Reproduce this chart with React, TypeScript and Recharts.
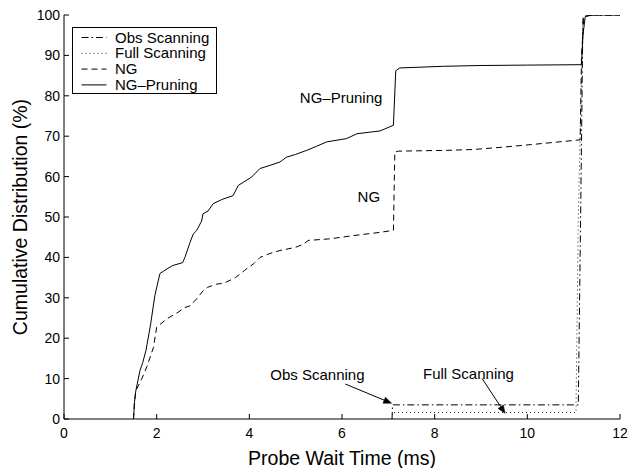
import React from 'react';
import {
  LineChart,
  Line,
  XAxis,
  YAxis,
  Legend,
  ReferenceDot,
  ReferenceLine,
} from 'recharts';

// ---- data (x = probe wait time in ms, y = cumulative %) ----
const obsScanning: [number, number][] = [
  [7.08, 0], [7.09, 3.5], [9.0, 3.5], [11.1, 3.5], [11.15, 50], [11.2, 99], [11.3, 100], [12, 100],
];

const fullScanning: [number, number][] = [
  [7.08, 0], [7.09, 1.6], [9.0, 1.6], [11.05, 1.6], [11.1, 50], [11.2, 99.5], [11.3, 100], [12, 100],
];

const ng: [number, number][] = [
  [1.5, 0], [1.52, 4], [1.55, 7], [1.68, 10], [1.79, 13], [1.93, 17.7], [2.0, 22.7], [2.03, 23],
  [2.22, 24.8], [2.46, 26.4], [2.61, 27.6], [2.72, 28], [2.86, 29.7], [3.0, 31.7], [3.1, 32.6],
  [3.3, 33.4], [3.45, 33.6], [3.7, 35], [3.9, 36.8], [4.1, 38.5], [4.23, 40], [4.45, 41],
  [4.66, 41.7], [5.0, 42.5], [5.17, 43.3], [5.27, 44.2], [5.74, 44.6], [6.25, 45.4], [6.82, 46.2],
  [7.11, 46.7], [7.14, 66.1], [7.22, 66.3], [8.26, 66.5], [8.83, 66.7], [9.48, 67.3], [10.06, 67.9],
  [11.14, 69.1], [11.17, 90], [11.22, 99.5], [11.35, 100], [12, 100],
];

const ngPruning: [number, number][] = [
  [1.5, 0], [1.52, 4], [1.55, 7], [1.64, 12], [1.7, 14], [1.77, 17], [1.87, 23.5], [1.96, 30.5],
  [2.07, 36], [2.2, 37], [2.35, 38], [2.56, 38.7], [2.61, 40], [2.72, 43.7], [2.79, 45.8],
  [2.86, 46.6], [2.97, 49], [3.0, 50.8], [3.11, 51.5], [3.22, 53.3], [3.4, 54.3], [3.65, 55.3],
  [3.76, 57.8], [4.05, 59.9], [4.23, 62], [4.45, 62.8], [4.66, 63.6], [4.8, 64.8], [5.0, 65.5],
  [5.24, 66.5], [5.45, 67.5], [5.67, 68.6], [6.1, 69.4], [6.32, 70.6], [6.6, 71], [6.82, 71.3],
  [7.11, 72.7], [7.16, 86.2], [7.25, 86.9], [8.19, 87.3], [8.98, 87.5], [10.0, 87.6], [11.17, 87.7],
  [11.2, 95], [11.25, 99.6], [11.4, 100], [12, 100],
];

const xTicks = [0, 2, 4, 6, 8, 10, 12];
const yTicks = [0, 10, 20, 30, 40, 50, 60, 70, 80, 90, 100];

const seriesNames = ['Obs Scanning', 'Full Scanning', 'NG', 'NG\u2013Pruning'];

const toPoints = (arr: [number, number][]) => arr.map(([x, y]) => ({ x, y }));

const FONT = '"Liberation Sans", Arial, Helvetica, sans-serif';

const styles = [
  { dash: '7 3 1.5 3', color: '#000', width: 1 },
  { dash: '1 3', color: '#222', width: 1 },
  { dash: '6 4', color: '#000', width: 1 },
  { dash: undefined as string | undefined, color: '#000', width: 1 },
];

const BottomTick = (p: any) => (
  <g>
    <line x1={p.x} y1={p.y} x2={p.x} y2={p.y - 5} stroke="#000" />
    <text x={p.x} y={p.y + 19.3} textAnchor="middle" fontSize={14} fontFamily={FONT} fill="#000">
      {p.payload.value}
    </text>
  </g>
);

const TopTick = (p: any) => (
  <line x1={p.x} y1={p.y} x2={p.x} y2={p.y + 5} stroke="#000" />
);

const LeftTick = (p: any) => (
  <g>
    <line x1={p.x} y1={p.y} x2={p.x + 5} y2={p.y} stroke="#000" />
    <text x={p.x - 4} y={p.y + 5} textAnchor="end" fontSize={14} fontFamily={FONT} fill="#000">
      {p.payload.value}
    </text>
  </g>
);

const RightTick = (p: any) => (
  <line x1={p.x} y1={p.y} x2={p.x - 5} y2={p.y} stroke="#000" />
);

const LegendBox = () => (
  <svg width={146} height={68} style={{ display: 'block' }}>
    <rect x={0.5} y={0.5} width={144} height={66} fill="#fff" stroke="#000" strokeWidth={1} />
    {seriesNames.map((name, i) => {
      const cy = 10.5 + i * 15.8;
      const s = styles[i];
      return (
        <g key={name}>
          <line x1={9.5} y1={cy} x2={34.5} y2={cy} stroke={s.color} strokeWidth={s.width} strokeDasharray={s.dash} />
          <text x={43} y={cy + 5} fontSize={15} fontFamily={FONT} fill="#000">
            {name}
          </text>
        </g>
      );
    })}
  </svg>
);

const textShape = (label: string) => (p: any) => (
  <text x={p.cx} y={p.cy} textAnchor="middle" fontSize={15} fontFamily={FONT} fill="#000">
    {label}
  </text>
);

const arrowShape = (p: any) => {
  const x1 = Number(p.x1);
  const y1 = Number(p.y1);
  const x2 = Number(p.x2);
  const y2 = Number(p.y2);
  const dx = x2 - x1;
  const dy = y2 - y1;
  const len = Math.sqrt(dx * dx + dy * dy) || 1;
  const ux = dx / len;
  const uy = dy / len;
  const hl = 8;
  const hw = 3.2;
  const bx = x2 - ux * hl;
  const by = y2 - uy * hl;
  const pts = `${x2},${y2} ${bx - uy * hw},${by + ux * hw} ${bx + uy * hw},${by - ux * hw}`;
  return (
    <g>
      <path d={`M${x1},${y1}L${bx},${by}`} stroke="#000" strokeWidth={1} fill="none" />
      <polygon points={pts} fill="#000" stroke="#000" strokeWidth={0.5} />
    </g>
  );
};

export default function App() {
  const datasets = [obsScanning, fullScanning, ng, ngPruning];
  return (
    <div style={{ position: 'absolute', left: 0, top: 0, background: '#fff' }}>
      <LineChart width={634} height={468} margin={{ top: 15, right: 14, bottom: 0, left: 0 }}>
        <XAxis
          dataKey="x"
          type="number"
          domain={[0, 12]}
          ticks={xTicks}
          allowDataOverflow
          height={49}
          tickSize={0}
          tickMargin={0}
          tickLine={false}
          axisLine={{ stroke: '#000' }}
          tick={(p: any) => <BottomTick {...p} />}
          interval={0}
          label={{
            value: 'Probe Wait Time (ms)',
            position: 'insideBottom',
            offset: 3,
            fontSize: 19.5,
            fontFamily: FONT,
            fill: '#000',
          }}
        />
        <XAxis
          xAxisId="top"
          orientation="top"
          dataKey="x"
          type="number"
          domain={[0, 12]}
          ticks={xTicks}
          allowDataOverflow
          height={0}
          tickSize={0}
          tickMargin={0}
          tickLine={false}
          axisLine={{ stroke: '#000' }}
          tick={(p: any) => <TopTick {...p} />}
          interval={0}
        />
        <YAxis
          type="number"
          domain={[0, 100]}
          ticks={yTicks}
          allowDataOverflow
          width={64}
          tickSize={0}
          tickMargin={0}
          tickLine={false}
          axisLine={{ stroke: '#000' }}
          tick={(p: any) => <LeftTick {...p} />}
          interval={0}
          label={{
            content: (lp: any) => {
              const vb = lp.viewBox;
              const cx = 26.5;
              const cy = vb.y + vb.height / 2;
              return (
                <text
                  x={cx}
                  y={cy}
                  transform={`rotate(-90, ${cx}, ${cy})`}
                  textAnchor="middle"
                  fontSize={19.5}
                  fontFamily={FONT}
                  fill="#000"
                >
                  Cumulative Distribution (%)
                </text>
              );
            },
          }}
        />
        <YAxis
          yAxisId="right"
          orientation="right"
          type="number"
          domain={[0, 100]}
          ticks={yTicks}
          allowDataOverflow
          width={0}
          tickSize={0}
          tickMargin={0}
          tickLine={false}
          axisLine={{ stroke: '#000' }}
          tick={(p: any) => <RightTick {...p} />}
          interval={0}
        />
        {datasets.map((d, i) => (
          <Line
            key={seriesNames[i]}
            name={seriesNames[i]}
            data={toPoints(d)}
            dataKey="y"
            type="linear"
            stroke={styles[i].color}
            strokeWidth={styles[i].width}
            strokeDasharray={styles[i].dash}
            dot={false}
            activeDot={false}
            isAnimationActive={false}
          />
        ))}
        <ReferenceDot x={5.98} y={78.1} r={0} shape={textShape('NG\u2013Pruning')} />
        <ReferenceDot x={6.58} y={53.8} r={0} shape={textShape('NG')} />
        <ReferenceDot x={5.47} y={9.65} r={0} shape={textShape('Obs Scanning')} />
        <ReferenceDot x={8.73} y={9.98} r={0} shape={textShape('Full Scanning')} />
        <ReferenceLine
          segment={[{ x: 6.07, y: 8.66 }, { x: 7.07, y: 3.9 }]}
          shape={arrowShape}
        />
        <ReferenceLine
          segment={[{ x: 9.02, y: 10.07 }, { x: 9.52, y: 1.4 }]}
          shape={arrowShape}
        />
        <Legend
          layout="vertical"
          align="center"
          verticalAlign="middle"
          content={() => <LegendBox />}
          wrapperStyle={{ position: 'absolute', left: 72, top: 27, width: 146, height: 68 }}
        />
      </LineChart>
    </div>
  );
}
